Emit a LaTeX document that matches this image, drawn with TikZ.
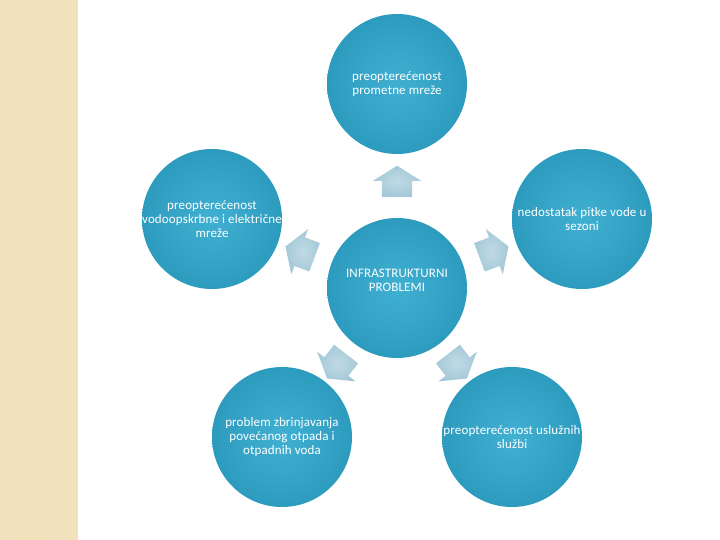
\documentclass[tikz,border=0pt]{standalone}
\usepackage{fontspec}
\setmainfont{Carlito}[LetterSpace=1]
\usetikzlibrary{calc,shapes.arrows,patterns}

\definecolor{bubbleIn}{RGB}{64,176,210}
\definecolor{bubbleOut}{RGB}{26,134,170}
\definecolor{arrowIn}{RGB}{192,218,229}
\definecolor{arrowOut}{RGB}{138,184,202}
\definecolor{stripe}{RGB}{240,225,186}
\definecolor{stripeDot}{RGB}{250,241,216}

\pgfdeclareradialshading{bubbleshade}{\pgfpoint{0bp}{0bp}}{color(0bp)=(bubbleIn); color(50bp)=(bubbleOut); color(60bp)=(bubbleOut)}
\pgfdeclareradialshading{arrowshade}{\pgfpoint{0bp}{0bp}}{color(0bp)=(arrowIn); color(50bp)=(arrowOut); color(60bp)=(arrowOut)}

\tikzset{
  bubble/.style={circle, minimum size=140pt, inner sep=0pt, shading=bubbleshade},
  bubbletext/.style={align=center, inner sep=0pt, text=white,
    font=\fontsize{13}{14}\selectfont},
  blockarrow/.style={single arrow, minimum height=31pt, inner xsep=0pt, inner ysep=15pt,
    single arrow head extend=9pt, single arrow tip angle=116,
    shading=arrowshade},
}

\begin{document}
\begin{tikzpicture}[x=1pt, y=-1pt]
    \useasboundingbox (0,0) rectangle (720,540);

    % --- left stripe ---
    \fill[stripe] (0,0) rectangle (78,540);
    \fill[pattern=dots, pattern color=stripeDot] (0,0) rectangle (78,540);

    % --- hub and outer bubbles ---
    \node[bubble, label={[bubbletext, yshift=8pt]center:{INFRASTRUKTURNI\\PROBLEMI}}] (hub) at (397,288) {};
    \node[bubble, label={[bubbletext]center:{preopterećenost\\prometne mreže}}] (promet) at (397,84) {};
    \node[bubble, label={[bubbletext]center:{preopterećenost\\vodoopskrbne i električne\\mreže}}] (voda) at (212,219) {};
    \node[bubble, label={[bubbletext]center:{nedostatak pitke vode u\\sezoni}}] (pitka) at (582,219) {};
    \node[bubble, label={[bubbletext]center:{problem zbrinjavanja\\povećanog otpada i\\otpadnih voda}}] (otpad) at (282,437) {};
    \node[bubble, label={[bubbletext]center:{preopterećenost uslužnih\\službi}}] (sluzbe) at (512,437) {};

    % --- block arrows, hub -> bubbles ---
    \foreach \target/\ang in {promet/90, voda/159.5, pitka/20.5, otpad/232.3, sluzbe/307.7}
        \node[blockarrow, rotate=\ang] (arrow-\target) at ($(hub)!0.5!(\target)$) {};

\end{tikzpicture}
\end{document}
